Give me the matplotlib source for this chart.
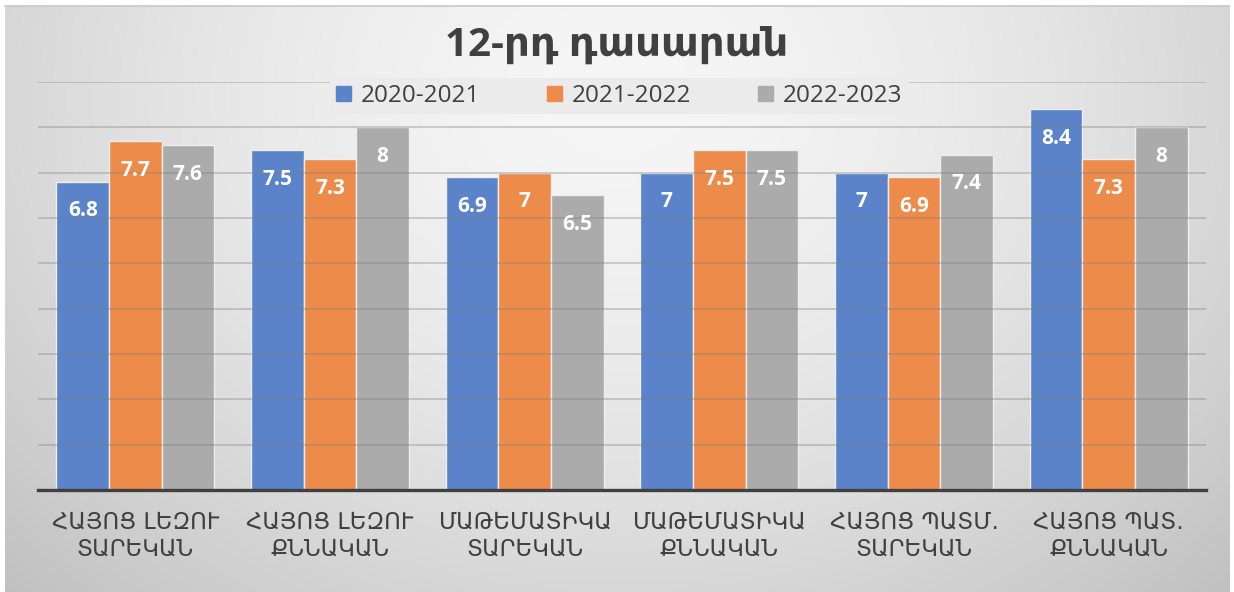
import matplotlib
matplotlib.use("Agg")
import matplotlib.pyplot as plt
import matplotlib.patches as mpatches
import numpy as np

categories = ["ՀԱՅՈՑ ԼԵԶՈՒ\nՏԱՐԵԿԱՆ", "ՀԱՅՈՑ ԼԵԶՈՒ\nՔՆՆԱԿԱՆ", "ՄԱԹԵՄԱՏԻԿԱ\nՏԱՐԵԿԱՆ",
              "ՄԱԹԵՄԱՏԻԿԱ\nՔՆՆԱԿԱՆ", "ՀԱՅՈՑ ՊԱՏՄ.\nՏԱՐԵԿԱՆ", "ՀԱՅՈՑ ՊԱՏ.\nՔՆՆԱԿԱՆ"]
years = ["2020-2021", "2021-2022", "2022-2023"]
y2020 = [6.8, 7.5, 6.9, 7, 7, 8.4]
y2021 = [7.7, 7.3, 7, 7.5, 6.9, 7.3]
y2022 = [7.6, 8, 6.5, 7.5, 7.4, 8]
title = "12-րդ դասարան"

colors = ["#5B83C9", "#EC8B4A", "#ABABAB"]
txt_c = "#404040"
fonts = ["Open Sans", "DejaVu Sans"]

W, H = 1234, 592
fig = plt.figure(figsize=(W / 100, H / 100), dpi=100, facecolor="white")

# ---- gradient backdrop ----
bg = fig.add_axes([0.004, 0, 0.992, 1 - 6 / H])
xx, yy = np.meshgrid(np.linspace(0, 1, 400), np.linspace(0, 1, 200))
r = np.sqrt(((xx - 0.5) / 0.62) ** 2 + ((yy - 0.15) / 1.05) ** 2)
shade = np.clip(0.965 - 0.17 * r ** 1.6, 0, 1)
bg.imshow(np.dstack([shade] * 3), aspect="auto", extent=[0, 1, 1, 0], interpolation="bilinear")
bg.set_xlim(0, 1); bg.set_ylim(1, 0)
bg.axis("off")
fig.add_artist(plt.Line2D([0.004, 0.996], [1 - 6 / H, 1 - 6 / H], color="#c8c8c8", lw=1.2))

# ---- main chart ----
ax = fig.add_axes([38 / W, 1 - 490 / H, (1206 - 38) / W, (490 - 82) / H])
ax.set_facecolor("none")
x = np.arange(len(categories))
bw = 0.27
series = [y2020, y2021, y2022]
for i, (vals, c, lab) in enumerate(zip(series, colors, years)):
    bars = ax.bar(x + (i - 1) * bw, vals, bw, color=c, edgecolor="#eeeeee", lw=1.0,
                  label=lab, zorder=2)
    for b, v in zip(bars, vals):
        ax.annotate(f"{v:g}", (b.get_x() + b.get_width() / 2, v), xytext=(0, -21),
                    textcoords="offset points", ha="center", va="center", color="white",
                    fontsize=15, fontweight="bold", family=fonts, zorder=5)

ax.set_ylim(0, 9)
ax.set_xlim(-0.5, len(categories) - 0.5)
ax.set_yticks(np.arange(1, 10))
ax.yaxis.grid(True, color="#808080", alpha=0.45, lw=1.1, zorder=3)
ax.set_axisbelow(False)
ax.tick_params(axis="y", length=0, labelleft=False)
ax.tick_params(axis="x", length=0, pad=15)
ax.set_xticks(x)
ax.set_xticklabels(categories, fontsize=16.5, color=txt_c, family=["DejaVu Sans"],
                   linespacing=1.2)
for s in ["top", "right", "left"]:
    ax.spines[s].set_visible(False)
ax.spines["bottom"].set_color("#404040")
ax.spines["bottom"].set_linewidth(2.4)
ax.spines["bottom"].set_zorder(4)

fig.text(0.5, 1 - 45 / H, title, ha="center", va="center", fontsize=29,
         fontweight="bold", color=txt_c, family=fonts)

handles = [mpatches.Patch(color=c, label=l) for c, l in zip(colors, years)]
leg = fig.legend(handles=handles, loc="center", bbox_to_anchor=(0.502, 1 - 96 / H), ncol=3,
                 fontsize=17.5, frameon=True, handlelength=0.62, handleheight=0.62,
                 handletextpad=0.4, columnspacing=2.75, borderpad=0.25)
leg.get_frame().set_facecolor("#ebebeb")
leg.get_frame().set_edgecolor("none")
leg.get_frame().set_alpha(1)
for t in leg.get_texts():
    t.set_color(txt_c)
    t.set_family(fonts)

plt.savefig("out.png", dpi=100)
print("saved")
